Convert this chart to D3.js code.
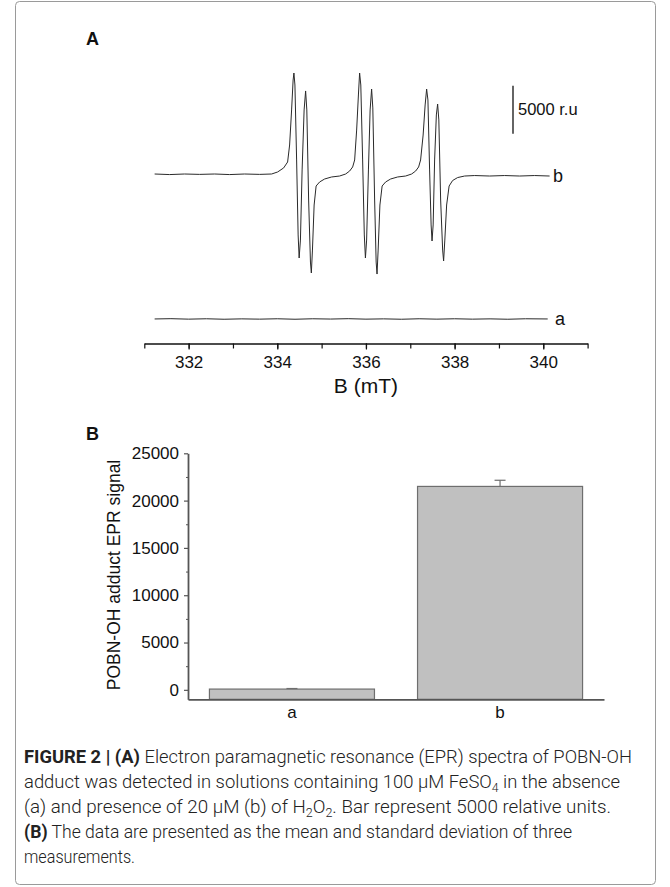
<!DOCTYPE html>
<html>
<head>
<meta charset="utf-8">
<title>EPR spectra of POBN-OH adduct</title>
<script src="https://d3js.org/d3.v7.min.js"></script>
<style>
  body { margin: 0; background: #fff; }
  svg text { font-family: "Liberation Sans", Arial, sans-serif; fill: #111; }
  .caption text { font-family: Roboto, "Liberation Sans", sans-serif; fill: #222; }
</style>
</head>
<body>
<svg id="fig" width="670" height="887"></svg>
<script>
// ---- panel A: EPR spectra (field in mT, signal in relative units) ----
var fieldTicks = [332, 334, 336, 338, 340];

// trace b
var spectrumB = [
  [331.233, 0], [331.571, -60], [331.910, 0], [332.248, -40], [332.587, 0],
  [332.925, -60], [333.263, 0], [333.602, -40], [333.872, 0], [334.008, 210],
  [334.143, 630], [334.233, 1250], [334.278, 3020], [334.323, 6670], [334.357, 9790],
  [334.375, 10520], [334.398, 9270], [334.436, 1460], [334.470, -6350], [334.493, -8750],
  [334.522, -6880], [334.560, 420], [334.605, 6670], [334.639, 8650], [334.666, 6670],
  [334.707, -2710], [334.748, -9170], [334.768, -10310], [334.793, -7920], [334.831, -3230],
  [334.876, -1250], [334.955, -830], [335.068, -520], [335.226, -310], [335.406, -210],
  [335.542, 0], [335.632, 310], [335.700, 730], [335.745, 1460], [335.790, 4580],
  [335.830, 8230], [335.857, 10520], [335.884, 9270], [335.925, 1460], [335.963, -6350],
  [335.988, -8750], [336.015, -6880], [336.056, 420], [336.094, 6670], [336.128, 8850],
  [336.155, 6880], [336.196, -2710], [336.230, -9170], [336.250, -10420], [336.275, -7920],
  [336.315, -3230], [336.365, -1250], [336.444, -830], [336.557, -520], [336.715, -310],
  [336.895, -210], [337.030, 0], [337.121, 310], [337.188, 730], [337.233, 1460],
  [337.290, 4060], [337.335, 7190], [337.369, 8850], [337.398, 7710], [337.436, 420],
  [337.470, -5310], [337.491, -6980], [337.516, -5310], [337.549, 1460], [337.588, 6150],
  [337.617, 7290], [337.644, 5630], [337.685, -2710], [337.730, -7920], [337.752, -9060],
  [337.779, -6880], [337.820, -3230], [337.876, -1250], [337.955, -680], [338.068, -370],
  [338.226, -210], [338.452, -160], [338.790, -210], [339.128, -160], [339.467, -210],
  [339.805, -160], [340.143, -210]
];

// trace a (no H2O2): flat line, shifted below trace b
var spectrumA = [
  [331.233, 0], [331.6, 30], [332.0, -20], [332.4, 20], [332.8, -30], [333.2, 10],
  [333.6, -20], [334.0, 20], [334.4, -30], [334.8, 20], [335.2, -10], [335.6, 30],
  [336.0, -20], [336.4, 10], [336.8, -30], [337.2, 20], [337.6, -20], [338.0, 20],
  [338.4, -20], [338.8, 10], [339.2, -30], [339.6, 20], [340.1, 0]
];
var offsetA = -15100;
var scaleBarValue = 5000;

// ---- panel B: bar chart ----
var groups = ["a", "b"];
var means = [80, 21500];
var sds = [60, 650];
var yTicksB = [0, 5000, 10000, 15000, 20000, 25000];
var yMinorB = [2500, 7500, 12500, 17500, 22500];

var svg = d3.select("#fig");

// frame round the whole figure
svg.append("rect")
  .attr("x", 15.5).attr("y", 1.5).attr("width", 640).attr("height", 883)
  .attr("rx", 4).attr("fill", "none").attr("stroke", "#9a9a9a").attr("stroke-width", 1);

// ===== A =====
var xA = d3.scaleLinear().domain([331, 341]).range([144.3, 587.6]);
var yA = d3.scaleLinear().domain([-16000, 12000]).range([327.6, 58.8]);
var axisYA = 343.5;

svg.append("text").attr("x", 86).attr("y", 45)
  .attr("font-size", 18).attr("font-weight", "bold").text("A");

var line = d3.line().x(function(d){ return xA(d[0]); }).y(function(d){ return yA(d[1]); });

svg.append("path").datum(spectrumB)
  .attr("d", line).attr("fill", "none").attr("stroke", "#2a2a2a").attr("stroke-width", 1);

svg.append("path").datum(spectrumA.map(function(d){ return [d[0], d[1] + offsetA]; }))
  .attr("d", line).attr("fill", "none").attr("stroke", "#2a2a2a").attr("stroke-width", 1);

svg.append("text").attr("x", 553).attr("y", yA(-200)).attr("dy", "0.35em")
  .attr("font-size", 18).text("b");
svg.append("text").attr("x", 555).attr("y", yA(offsetA)).attr("dy", "0.35em")
  .attr("font-size", 18).text("a");

// scale bar
svg.append("line").attr("x1", 513).attr("x2", 513)
  .attr("y1", yA(4200)).attr("y2", yA(4200 + scaleBarValue))
  .attr("stroke", "#111").attr("stroke-width", 1.3);
svg.append("text").attr("x", 518).attr("y", yA(4200 + scaleBarValue / 2)).attr("dy", "0.35em")
  .attr("font-size", 16.5).text("5000 r.u");

// x axis: minor ticks every 1 mT, labelled ticks every 2 mT
var gMinor = svg.append("g").attr("transform", "translate(0," + axisYA + ")")
  .call(d3.axisBottom(xA).tickValues(d3.range(331, 342)).tickSize(5).tickSizeOuter(0).tickFormat(""));
gMinor.select(".domain").attr("stroke", "#111").attr("stroke-width", 1.3);
gMinor.selectAll(".tick line").attr("stroke", "#111").attr("stroke-width", 1.2);

var gMajor = svg.append("g").attr("transform", "translate(0," + axisYA + ")")
  .call(d3.axisBottom(xA).tickValues(fieldTicks).tickSize(6).tickPadding(6));
gMajor.select(".domain").remove();
gMajor.selectAll(".tick line").attr("stroke", "#111").attr("stroke-width", 1.2);
gMajor.selectAll("text").attr("font-size", 17).attr("font-family", "Liberation Sans, Arial, sans-serif").attr("fill", "#111");

svg.append("text").attr("x", xA(336)).attr("y", 393).attr("text-anchor", "middle")
  .attr("font-size", 21).text("B (mT)");

// ===== B =====
var xB = d3.scaleBand().domain(groups).range([188, 604]).paddingInner(0.207).paddingOuter(0.103);
var yB = d3.scaleLinear().domain([-1000, 25000]).range([699.3, 453.3]);

svg.append("text").attr("x", 86).attr("y", 440)
  .attr("font-size", 18).attr("font-weight", "bold").text("B");

var bars = groups.map(function(g, i){ return {g: g, m: means[i], s: sds[i]}; });

svg.selectAll(".bar").data(bars).enter().append("rect")
  .attr("class", "bar")
  .attr("x", function(d){ return xB(d.g); })
  .attr("width", xB.bandwidth())
  .attr("y", function(d){ return yB(d.m); })
  .attr("height", function(d){ return yB(-1000) - yB(d.m); })
  .attr("fill", "#c0c0c0").attr("stroke", "#6e6e6e").attr("stroke-width", 1.2);

// error bars (upper half only)
var eb = svg.selectAll(".err").data(bars).enter().append("g").attr("class", "err")
  .attr("stroke", "#6e6e6e").attr("stroke-width", 1.2);
eb.append("line")
  .attr("x1", function(d){ return xB(d.g) + xB.bandwidth() / 2; })
  .attr("x2", function(d){ return xB(d.g) + xB.bandwidth() / 2; })
  .attr("y1", function(d){ return yB(d.m); })
  .attr("y2", function(d){ return yB(d.m + d.s); });
eb.append("line")
  .attr("x1", function(d){ return xB(d.g) + xB.bandwidth() / 2 - 5.5; })
  .attr("x2", function(d){ return xB(d.g) + xB.bandwidth() / 2 + 5.5; })
  .attr("y1", function(d){ return yB(d.m + d.s); })
  .attr("y2", function(d){ return yB(d.m + d.s); });

var gY = svg.append("g").attr("transform", "translate(188,0)")
  .call(d3.axisLeft(yB).tickValues(yTicksB).tickFormat(d3.format("d")).tickSize(4).tickSizeOuter(0).tickPadding(5));
gY.select(".domain").attr("stroke", "#555").attr("stroke-width", 1.8);
gY.selectAll(".tick line").attr("stroke", "#555").attr("stroke-width", 1.2);
gY.selectAll("text").attr("font-size", 17).attr("font-family", "Liberation Sans, Arial, sans-serif").attr("fill", "#111");

var gYm = svg.append("g").attr("transform", "translate(188,0)")
  .call(d3.axisLeft(yB).tickValues(yMinorB).tickSize(2).tickFormat(""));
gYm.select(".domain").remove();
gYm.selectAll(".tick line").attr("stroke", "#555").attr("stroke-width", 1);

var gX = svg.append("g").attr("transform", "translate(0," + yB(-1000) + ")")
  .call(d3.axisBottom(xB).tickSize(0).tickSizeOuter(0).tickPadding(7));
gX.select(".domain").attr("stroke", "#555").attr("stroke-width", 1.8);
gX.selectAll("text").attr("font-size", 17).attr("font-family", "Liberation Sans, Arial, sans-serif").attr("fill", "#111");

svg.append("text")
  .attr("transform", "translate(114,575) rotate(-90)")
  .attr("text-anchor", "middle").attr("dy", "0.35em")
  .attr("font-size", 17.5).text("POBN-OH adduct EPR signal");

// ===== caption =====
var cap = svg.append("g").attr("class", "caption").attr("font-size", 18);
var capX = 24, capY0 = 763, capDy = 25;

var l1 = cap.append("text").attr("x", capX).attr("y", capY0)
  .attr("textLength", 608).attr("lengthAdjust", "spacingAndGlyphs");
l1.append("tspan").attr("font-weight", "bold").text("FIGURE 2 | (A)");
l1.append("tspan").attr("font-weight", 300).text(" Electron paramagnetic resonance (EPR) spectra of POBN-OH");

var l2 = cap.append("text").attr("x", capX).attr("y", capY0 + capDy).attr("font-weight", 300)
  .attr("textLength", 596).attr("lengthAdjust", "spacingAndGlyphs");
l2.append("tspan").text("adduct was detected in solutions containing 100 \u03bcM FeSO");
l2.append("tspan").attr("font-size", 12).attr("dy", 4).text("4");
l2.append("tspan").attr("dy", -4).text(" in the absence");

var l3 = cap.append("text").attr("x", capX).attr("y", capY0 + 2 * capDy).attr("font-weight", 300)
  .attr("textLength", 587).attr("lengthAdjust", "spacingAndGlyphs");
l3.append("tspan").text("(a) and presence of 20 \u03bcM (b) of H");
l3.append("tspan").attr("font-size", 12).attr("dy", 4).text("2");
l3.append("tspan").attr("dy", -4).text("O");
l3.append("tspan").attr("font-size", 12).attr("dy", 4).text("2");
l3.append("tspan").attr("dy", -4).text(". Bar represent 5000 relative units.");

var l4 = cap.append("text").attr("x", capX).attr("y", capY0 + 3 * capDy)
  .attr("textLength", 548).attr("lengthAdjust", "spacingAndGlyphs");
l4.append("tspan").attr("font-weight", "bold").text("(B)");
l4.append("tspan").attr("font-weight", 300).text(" The data are presented as the mean and standard deviation of three");

cap.append("text").attr("x", capX).attr("y", capY0 + 4 * capDy).attr("font-weight", 300)
  .attr("textLength", 111).attr("lengthAdjust", "spacingAndGlyphs")
  .text("measurements.");
</script>
</body>
</html>
